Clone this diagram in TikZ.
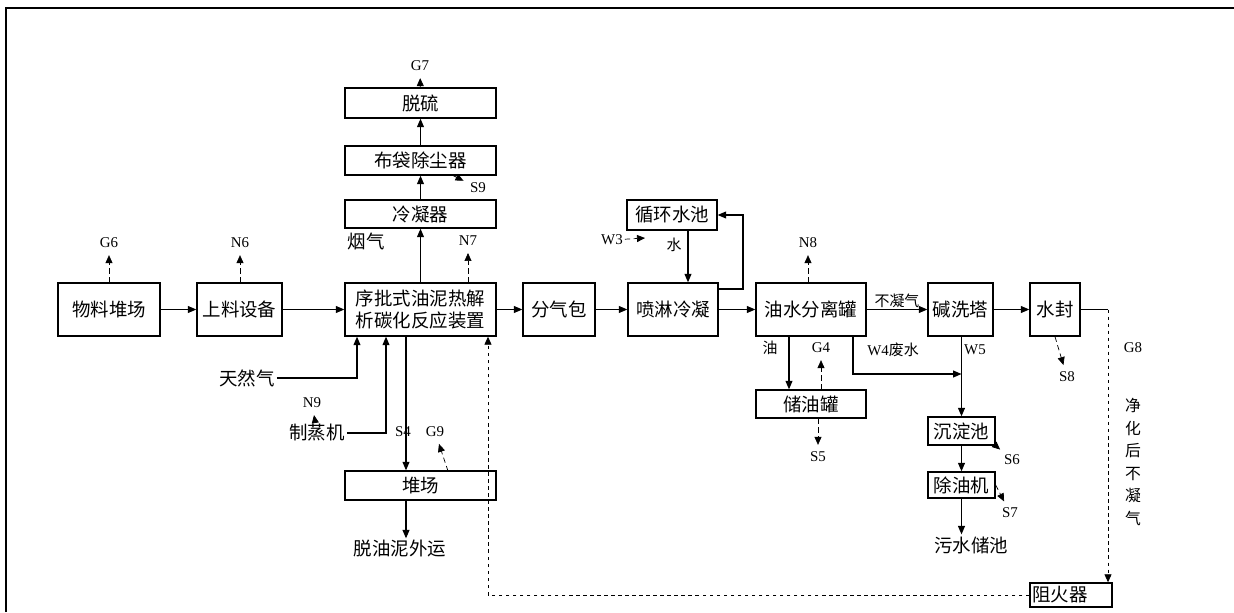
\documentclass[tikz,border=0pt]{standalone}
\usepackage{fontspec}
\setmainfont{Liberation Serif}
\newfontfamily\cjk{Noto Sans CJK SC}
\usetikzlibrary{positioning}
\usetikzlibrary{arrows.meta}

\tikzset{
  box/.style={draw, line width=0.8pt, inner sep=0pt, font=\cjk\fontsize{10.5}{12.5}\selectfont},
  txt/.style={inner sep=1pt, font=\cjk\fontsize{10.5}{12.5}\selectfont},
  smalltxt/.style={inner sep=1pt, font=\cjk\fontsize{8.5}{10}\selectfont},
  lbl/.style={inner sep=1pt, font=\fontsize{8.5}{10}\selectfont},
  flow/.style={-{Triangle[length=1.7mm,width=1.4mm]}, line width=0.6pt},
  emit/.style={-{Triangle[length=1.6mm,width=1.4mm]}, line width=0.4pt, densely dashed, shorten >=1mm},
  gas/.style={line width=0.5pt, dash pattern=on 2pt off 2pt}
}

\begin{document}
\begin{tikzpicture}[x=0.02cm, y=-0.02cm]
\useasboundingbox (0,0) rectangle (1234,612);
\draw[line width=1pt] (6,612) -- (6,8) -- (1234,8);

\node[box, minimum width=2.04cm, minimum height=1.06cm] (wl) at (109,309.5) {物料堆场};
\node[box, minimum width=1.70cm, minimum height=1.06cm] (sl) at (239.5,309.5) {上料设备};
\node[box, minimum width=3.02cm, minimum height=1.06cm, align=center] (fy) at (420.5,309.5) {序批式油泥热解\\析碳化反应装置};
\node[box, minimum width=3.02cm, minimum height=0.56cm] (lnq) at (420.5,214) {冷凝器};
\node[box, minimum width=3.02cm, minimum height=0.58cm] (bd) at (420.5,160.5) {布袋除尘器};
\node[box, minimum width=3.02cm, minimum height=0.60cm] (tl) at (420.5,103) {脱硫};
\node[box, minimum width=3.02cm, minimum height=0.58cm] (dc) at (420.5,485.5) {堆场};
\node[box, minimum width=1.44cm, minimum height=1.06cm] (fqb) at (559,309.5) {分气包};
\node[box, minimum width=1.80cm, minimum height=1.06cm] (pl) at (673,309.5) {喷淋冷凝};
\node[box, minimum width=1.80cm, minimum height=0.60cm] (xh) at (672,215) {循环水池};
\node[box, minimum width=2.20cm, minimum height=1.06cm] (ys) at (811,309.5) {油水分离罐};
\node[box, minimum width=1.30cm, minimum height=1.06cm] (jx) at (960.5,309.5) {碱洗塔};
\node[box, minimum width=1.00cm, minimum height=1.06cm] (sf) at (1055,309.5) {水封};
\node[box, minimum width=2.20cm, minimum height=0.56cm] (cy) at (811,404) {储油罐};
\node[box, minimum width=1.34cm, minimum height=0.56cm] (cd) at (961.5,431) {沉淀池};
\node[box, minimum width=1.34cm, minimum height=0.52cm] (cyj) at (961.5,485) {除油机};
\node[box, minimum width=1.64cm, minimum height=0.48cm, text width=1.54cm, align=left] (zh) at (1071,595) {阻火器};

\node[txt] (trq) at (247,378) {天然气};
\node[txt] (zj) at (317,433) {制蒸机};
\node[txt] (ty) at (400,549) {脱油泥外运};
\node[txt] (ws) at (971,545) {污水储池};
\node[txt] (yq) at (366,241) {烟气};
\node[smalltxt] (shui) at (674,245) {水};
\node[smalltxt] (you) at (770,348) {油};
\node[inner sep=1pt, font=\cjk\fontsize{9}{12.8}\selectfont, align=center] (jh) at (1133,462) {净\\化\\后\\不\\凝\\气};

\node[lbl] (g6) at (109,243) {G6};
\node[lbl] (n6) at (240,243) {N6};
\node[lbl] (n7) at (468,241) {N7};
\node[lbl] (n8) at (808,243) {N8};
\node[lbl] (g7) at (420,66) {G7};
\node[lbl] (s9) at (478,188) {S9};
\node[lbl] (w3) at (612,240) {W3};
\node[lbl] (g4) at (821,348) {G4};
\node[lbl] (s5) at (818,457) {S5};
\node[lbl] (w4) at (893,350) {W4{\cjk 废水}};
\node[lbl] (w5) at (975,350) {W5};
\node[lbl] (s6) at (1012,460) {S6};
\node[lbl] (s7) at (1010,513) {S7};
\node[lbl] (s8) at (1067,377) {S8};
\node[lbl] (g8) at (1133,348) {G8};
\node[lbl] (n9) at (312,403) {N9};
\node[lbl] (s4) at (403,432) {S4};
\node[lbl] (g9) at (435,432) {G9};

\coordinate (p1) at (688,0);
\coordinate (p2) at (743,289);
\coordinate (p3) at (406,0);
\coordinate (p4) at (357,0);
\coordinate (p5) at (386,0);
\coordinate (p6) at (789,0);
\coordinate (p7) at (853,0);
\coordinate (p8) at (961.5,374);
\coordinate (p9) at (1108,309.5);
\coordinate (p10) at (488,0);
\coordinate (s9a) at (452,175);
\coordinate (w3t) at (645,238);
\coordinate (g9a) at (448,471);

% main flow
\draw[flow] (wl) -- (sl);
\draw[flow] (sl) -- (fy);
\draw[flow] (fy) -- (fqb);
\draw[flow] (fqb) -- (pl);
\draw[flow] (pl) -- (ys);
\draw[flow] (ys) -- node[smalltxt, above] {不凝气} (jx);
\draw[flow] (jx) -- (sf);
\draw[flow] (fy) -- (lnq);
\draw[flow] (lnq) -- (bd);
\draw[flow] (bd) -- (tl);
\draw[flow] (xh.south -| p1) -- (pl.north -| p1);
\draw[flow] (pl.east |- p2) -- (p2) |- (xh);
\draw[flow] (fy.south -| p3) -- (dc.north -| p3);
\draw[flow] (dc.south -| p3) -- (ty.north -| p3);
\draw[flow] (trq) -| (fy.south -| p4);
\draw[flow] (zj) -| (fy.south -| p5);
\draw[flow] (ys.south -| p6) -- (cy.north -| p6);
\draw[flow] (ys.south -| p7) |- (p8);
\draw[flow] (jx.south -| cd.north) -- (cd);
\draw[flow] (cd) -- (cyj);
\draw[flow] (cyj) -- (cyj |- ws.north);

% gas return
\draw[line width=0.5pt] (sf) -- (p9);
\draw[gas, -{Triangle[length=1.6mm,width=1.4mm]}] (p9) -- (zh.north -| p9);
\draw[gas, -{Triangle[length=1.6mm,width=1.4mm]}] (zh.west) -| (fy.south -| p10);

% emissions
\draw[emit] (wl) -- (g6);
\draw[emit] (sl.north -| n6) -- (n6);
\draw[emit] (fy.north -| n7) -- (n7);
\draw[emit] (ys.north -| n8) -- (n8);
\draw[emit] (tl) -- (g7);
\draw[emit] (s9a) -- (s9);
\draw[emit, shorten >=0pt] (w3) -- (w3t);
\draw[emit] (cy.north -| g4) -- (g4);
\draw[emit] (cy.south -| s5) -- (s5);
\draw[emit] (cd.south east) -- (s6);
\draw[emit] (cyj.east) -- (s7);
\draw[emit] (sf.south) -- (s8);
\draw[emit] (g9a) -- (g9);
\draw[emit] (zj) -- (n9);

\end{tikzpicture}
\end{document}
